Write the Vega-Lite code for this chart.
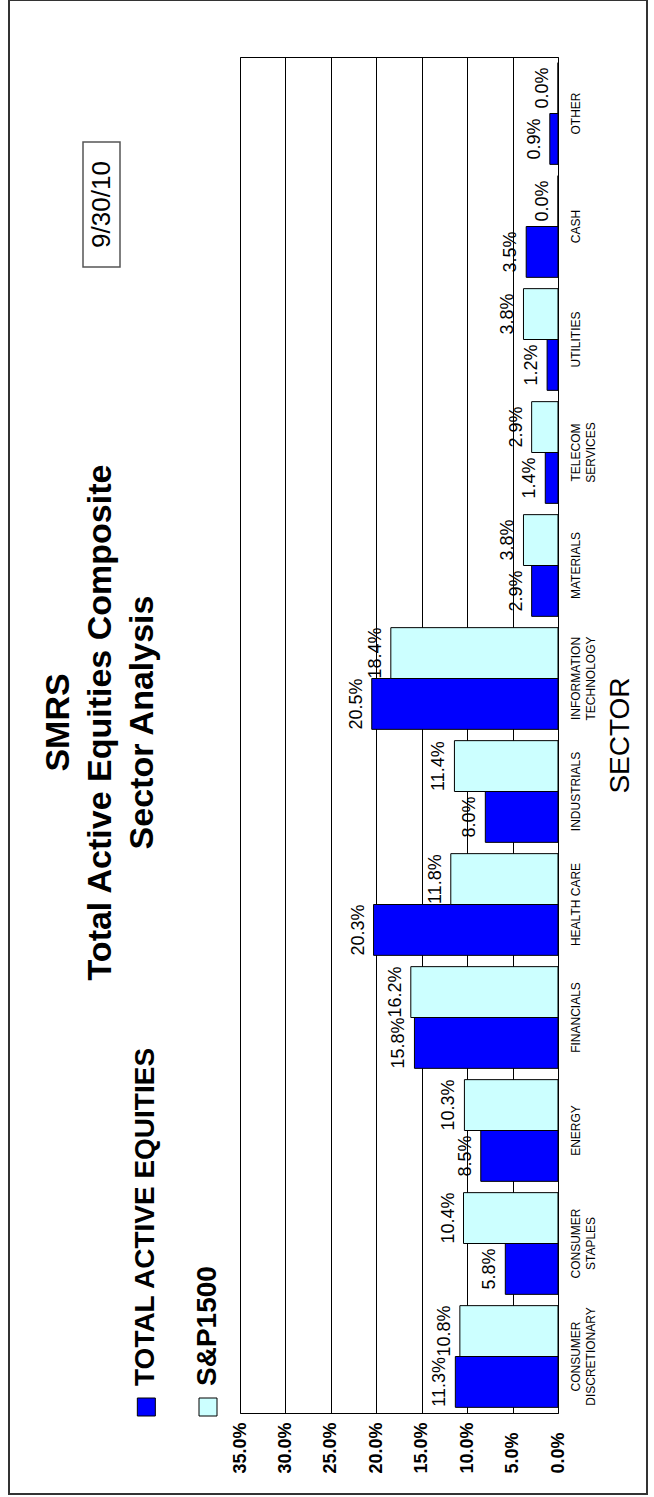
{
  "$schema": "https://vega.github.io/schema/vega-lite/v6.json",
  "padding": {"left": 9, "top": 0, "right": 0, "bottom": 0},
  "config": {"font": "Liberation Sans", "view": {"stroke": null}, "legend": {"gradientVerticalMaxLength": 3000, "gradientVerticalMinLength": 10}},
  "datasets": {
    "bars": [
      {"sector": "CONSUMER DISCRETIONARY", "series": "TOTAL ACTIVE EQUITIES", "value": 0.113},
      {"sector": "CONSUMER DISCRETIONARY", "series": "S&P1500", "value": 0.108},
      {"sector": "CONSUMER STAPLES", "series": "TOTAL ACTIVE EQUITIES", "value": 0.058},
      {"sector": "CONSUMER STAPLES", "series": "S&P1500", "value": 0.104},
      {"sector": "ENERGY", "series": "TOTAL ACTIVE EQUITIES", "value": 0.085},
      {"sector": "ENERGY", "series": "S&P1500", "value": 0.103},
      {"sector": "FINANCIALS", "series": "TOTAL ACTIVE EQUITIES", "value": 0.158},
      {"sector": "FINANCIALS", "series": "S&P1500", "value": 0.162},
      {"sector": "HEALTH CARE", "series": "TOTAL ACTIVE EQUITIES", "value": 0.203},
      {"sector": "HEALTH CARE", "series": "S&P1500", "value": 0.118},
      {"sector": "INDUSTRIALS", "series": "TOTAL ACTIVE EQUITIES", "value": 0.080},
      {"sector": "INDUSTRIALS", "series": "S&P1500", "value": 0.114},
      {"sector": "INFORMATION TECHNOLOGY", "series": "TOTAL ACTIVE EQUITIES", "value": 0.205},
      {"sector": "INFORMATION TECHNOLOGY", "series": "S&P1500", "value": 0.184},
      {"sector": "MATERIALS", "series": "TOTAL ACTIVE EQUITIES", "value": 0.029},
      {"sector": "MATERIALS", "series": "S&P1500", "value": 0.038},
      {"sector": "TELECOM SERVICES", "series": "TOTAL ACTIVE EQUITIES", "value": 0.014},
      {"sector": "TELECOM SERVICES", "series": "S&P1500", "value": 0.029},
      {"sector": "UTILITIES", "series": "TOTAL ACTIVE EQUITIES", "value": 0.012},
      {"sector": "UTILITIES", "series": "S&P1500", "value": 0.038},
      {"sector": "CASH", "series": "TOTAL ACTIVE EQUITIES", "value": 0.035},
      {"sector": "CASH", "series": "S&P1500", "value": 0.0},
      {"sector": "OTHER", "series": "TOTAL ACTIVE EQUITIES", "value": 0.009},
      {"sector": "OTHER", "series": "S&P1500", "value": 0.0}
    ],
    "legendItems": [
      {"series": "TOTAL ACTIVE EQUITIES"},
      {"series": "S&P1500"}
    ]
  },
  "bounds": "flush",
  "spacing": 201,
  "hconcat": [
    {
      "spacing": 0,
      "vconcat": [
        {"width": 1, "height": 84, "data": {"values": []}, "mark": "point", "encoding": {}},
        {
          "spacing": 0,
          "hconcat": [
            {"width": 43, "height": 1, "data": {"values": []}, "mark": "point", "encoding": {}},
            {
              "width": 37, "height": 125,
              "data": {"values": [{}]},
              "mark": {"type": "text", "text": "9/30/10", "angle": -90, "fontSize": 26, "align": "center", "baseline": "middle", "color": "#000000"},
              "encoding": {},
              "view": {"stroke": "#555555", "strokeWidth": 1.5}
            }
          ]
        },
        {
          "width": 123, "height": 763,
          "data": {"values": [{}]},
          "mark": {"type": "text", "text": ["SMRS", "Total Active Equities Composite", "Sector Analysis"], "angle": -90, "fontSize": 34, "fontWeight": "bold", "lineHeight": 42, "align": "center", "baseline": "middle", "dx": -73, "dy": -42, "color": "#000000"},
          "encoding": {}
        },
        {
          "width": 185, "height": 384,
          "data": {"name": "legendItems"},
          "encoding": {
            "x": {"field": "series", "type": "nominal", "scale": {"type": "point", "domain": ["TOTAL ACTIVE EQUITIES", "S&P1500"], "padding": 1.9026, "align": 0.8703}, "axis": null},
            "y": {"datum": 0, "type": "quantitative", "scale": {"domain": [0, 1]}, "axis": null}
          },
          "layer": [
            {
              "mark": {"type": "point", "shape": "square", "filled": true, "size": 324, "stroke": "#000000", "strokeWidth": 1, "opacity": 1, "yOffset": -8},
              "encoding": {
                "color": {"field": "series", "type": "nominal", "scale": {"domain": ["TOTAL ACTIVE EQUITIES", "S&P1500"], "range": ["#0000ff", "#ccffff"]}, "legend": null}
              }
            },
            {
              "mark": {"type": "text", "angle": -90, "align": "left", "baseline": "middle", "fontSize": 28, "fontWeight": "bold", "dx": 29, "color": "#000000"},
              "encoding": {"text": {"field": "series"}}
            }
          ]
        }
      ]
    },
    {
      "width": 318, "height": 1356,
      "data": {"name": "bars"},
      "view": {"stroke": "#000000", "strokeWidth": 1},
      "encoding": {
        "y": {
          "field": "sector", "type": "nominal",
          "sort": ["OTHER", "CASH", "UTILITIES", "TELECOM SERVICES", "MATERIALS", "INFORMATION TECHNOLOGY", "INDUSTRIALS", "HEALTH CARE", "FINANCIALS", "ENERGY", "CONSUMER STAPLES", "CONSUMER DISCRETIONARY"],
          "scale": {"paddingInner": 0.1, "paddingOuter": 0.05},
          "axis": {
            "orient": "right", "title": "SECTOR", "titleAngle": -90, "titleFontSize": 28, "titleFontWeight": "normal", "titleColor": "#000000", "titleBaseline": "top", "titlePadding": 10,
            "labelAngle": -90, "labelAlign": "center", "labelBaseline": "top", "labelFontSize": 12, "labelLineHeight": 15, "labelPadding": 12, "labelColor": "#000000", "labelLimit": 0,
            "ticks": false, "domain": false,
            "labelExpr": "indexof(['CONSUMER DISCRETIONARY','CONSUMER STAPLES','INFORMATION TECHNOLOGY','TELECOM SERVICES'], datum.label) >= 0 ? split(datum.label, ' ') : datum.label"
          }
        },
        "x": {
          "field": "value", "type": "quantitative",
          "scale": {"domain": [0, 0.35], "reverse": true, "nice": false},
          "axis": {
            "values": [0, 0.05, 0.1, 0.15, 0.2, 0.25, 0.3, 0.35], "format": ".1%",
            "grid": true, "gridColor": "#000000", "gridWidth": 1, "gridOpacity": 1,
            "ticks": false, "tickSize": 0, "domain": false,
            "labelAngle": -90, "labelAlign": "left", "labelBaseline": "middle", "labelFontSize": 18, "labelFontWeight": "bold", "labelColor": "#000000", "labelPadding": 60, "labelFlush": false, "labelOverlap": false,
            "title": null
          }
        },
        "yOffset": {"field": "series", "type": "nominal", "sort": ["S&P1500", "TOTAL ACTIVE EQUITIES"], "scale": {"paddingInner": 0}}
      },
      "layer": [
        {
          "mark": {"type": "bar", "stroke": "#000000", "strokeWidth": 1},
          "encoding": {
            "color": {"field": "series", "type": "nominal", "scale": {"domain": ["TOTAL ACTIVE EQUITIES", "S&P1500"], "range": ["#0000ff", "#ccffff"]}, "legend": null}
          }
        },
        {
          "mark": {"type": "text", "angle": -90, "align": "center", "baseline": "alphabetic", "dy": -10, "fontSize": 18, "color": "#000000"},
          "encoding": {"text": {"field": "value", "type": "quantitative", "format": ".1%"}}
        },
        {
          "mark": {"type": "point", "filled": false, "size": 1, "opacity": 1},
          "encoding": {
            "stroke": {
              "field": "value", "type": "quantitative",
              "scale": {"range": ["rgba(0,0,0,0)", "rgba(0,0,0,0)"]},
              "legend": {"orient": "none", "legendX": -30, "legendY": -57, "direction": "vertical", "gradientLength": 1494, "gradientThickness": 638, "gradientStrokeColor": "#333333", "gradientStrokeWidth": 2, "title": null, "labelExpr": "''", "labelOffset": 0, "labelFontSize": 1, "padding": 0, "offset": 0, "tickCount": 2}
            }
          }
        }
      ]
    }
  ]
}
